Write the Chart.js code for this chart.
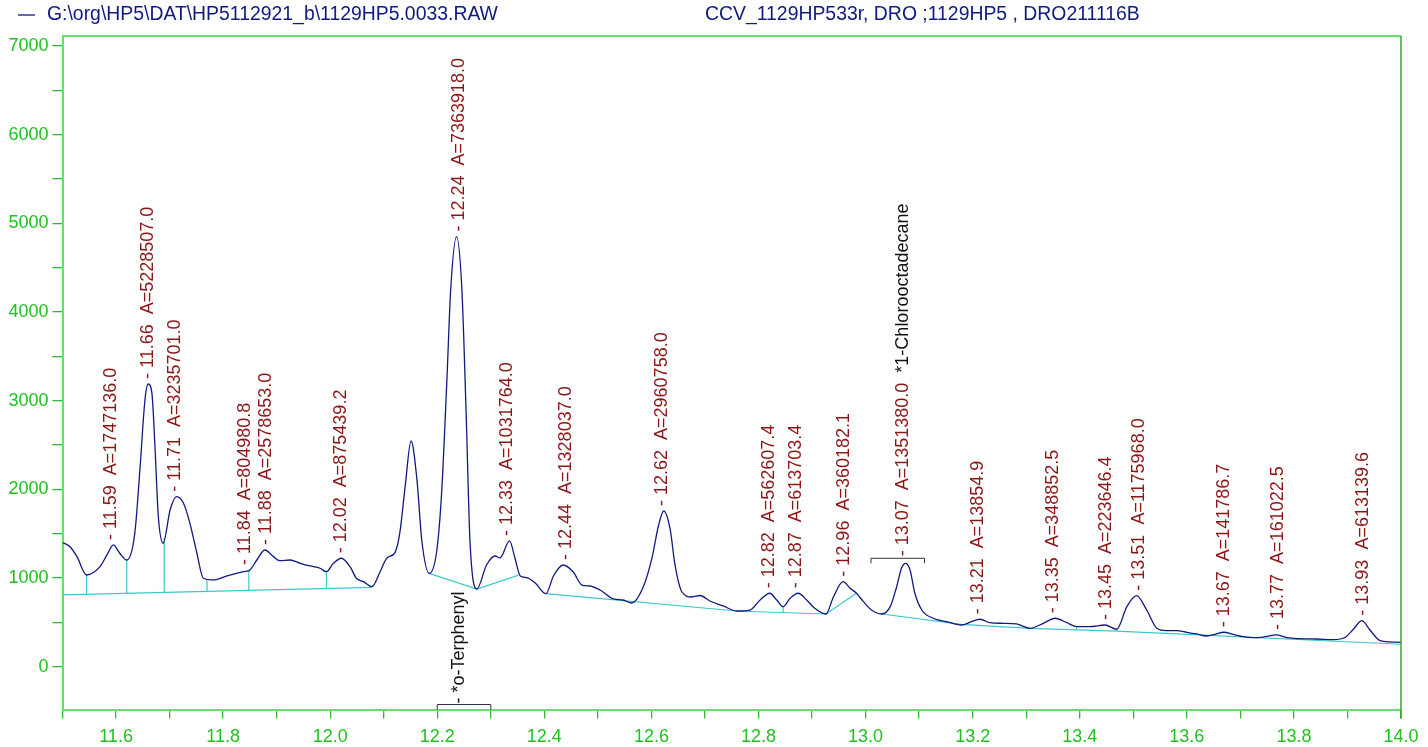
<!DOCTYPE html>
<html>
<head>
<meta charset="utf-8">
<script src="https://cdn.jsdelivr.net/npm/chart.js@4.4.1/dist/chart.umd.min.js"></script>
<style>
  body { margin: 0; background: #fff; }
</style>
</head>
<body>
<canvas id="chrom" width="1428" height="747"></canvas>
<script>
const fileName = 'G:\\org\\HP5\\DAT\\HP5112921_b\\1129HP5.0033.RAW';
const runInfo = 'CCV_1129HP533r, DRO ;1129HP5 , DRO211116B';

// detector trace (retention time in min, signal)
const traceRt = [
  11.500, 11.514, 11.527, 11.545, 11.570, 11.583, 11.595, 11.607, 11.620, 11.635,
  11.645, 11.654, 11.660, 11.667, 11.673, 11.679, 11.688, 11.701, 11.713, 11.726,
  11.738, 11.751, 11.763, 11.782, 11.807, 11.825, 11.838, 11.850, 11.863, 11.878,
  11.894, 11.906, 11.925, 11.944, 11.962, 11.981, 11.993, 12.006, 12.021, 12.037,
  12.049, 12.062, 12.078, 12.093, 12.106, 12.121, 12.130, 12.140, 12.151, 12.162,
  12.171, 12.185, 12.199, 12.208, 12.218, 12.225, 12.236, 12.246, 12.254, 12.261,
  12.274, 12.292, 12.308, 12.317, 12.335, 12.345, 12.355, 12.367, 12.383, 12.403,
  12.417, 12.435, 12.454, 12.470, 12.485, 12.504, 12.529, 12.547, 12.563, 12.585,
  12.601, 12.613, 12.623, 12.635, 12.644, 12.657, 12.675, 12.691, 12.709, 12.734,
  12.759, 12.784, 12.803, 12.821, 12.834, 12.846, 12.859, 12.874, 12.890, 12.905,
  12.926, 12.940, 12.958, 12.971, 12.983, 12.996, 13.011, 13.030, 13.046, 13.058,
  13.067, 13.075, 13.083, 13.092, 13.105, 13.126, 13.151, 13.179, 13.198, 13.214,
  13.232, 13.257, 13.282, 13.307, 13.332, 13.354, 13.376, 13.394, 13.419, 13.447,
  13.469, 13.488, 13.506, 13.525, 13.544, 13.562, 13.581, 13.600, 13.618, 13.637,
  13.653, 13.669, 13.687, 13.705, 13.724, 13.746, 13.767, 13.787, 13.811, 13.843,
  13.874, 13.896, 13.911, 13.927, 13.942, 13.961, 13.979, 14.000
];
const traceSignal = [
  1401, 1353, 1241, 1034, 1128, 1260, 1373, 1279, 1203, 1504,
  2256, 3008, 3188, 3083, 2444, 1692, 1392, 1767, 1917, 1843,
  1617, 1279, 997, 978, 1023, 1053, 1071, 1091, 1203, 1316,
  1241, 1195, 1203, 1166, 1136, 1110, 1071, 1166, 1223, 1128,
  997, 959, 902, 1068, 1226, 1287, 1508, 2031, 2545, 2112,
  1429, 1052, 1305, 1951, 3240, 4248, 4851, 4248, 2839, 1429,
  876, 1147, 1248, 1226, 1418, 1226, 1023, 1005, 944, 823,
  1023, 1147, 1068, 921, 910, 865, 764, 752, 718, 903,
  1226, 1587, 1756, 1548, 1147, 842, 786, 803, 741, 685,
  628, 639, 752, 828, 752, 677, 771, 828, 752, 659,
  594, 789, 959, 884, 828, 733, 639, 594, 677, 902,
  1110, 1166, 1091, 828, 639, 546, 508, 470, 508, 535,
  496, 489, 482, 433, 489, 546, 496, 451, 451, 470,
  422, 677, 801, 639, 433, 406, 406, 388, 369, 346,
  365, 388, 365, 338, 327, 338, 358, 327, 316, 312,
  305, 332, 422, 519, 414, 293, 279, 275
];

// integrated peaks
const peakRt = [11.59, 11.66, 11.71, 11.84, 11.88, 12.02, 12.24, 12.33, 12.44, 12.62, 12.82,
  12.87, 12.96, 13.07, 13.21, 13.35, 13.45, 13.51, 13.67, 13.77, 13.93];
const peakArea = ['1747136.0', '5228507.0', '3235701.0', '804980.8', '2578653.0', '875439.2',
  '7363918.0', '1031764.0', '1328037.0', '2960758.0', '562607.4', '613703.4', '360182.1',
  '1351380.0', '13854.9', '348852.5', '223646.4', '1175968.0', '141786.7', '161022.5', '613139.6'];

// surrogates: name, window, label on the peak or down at the axis
const surrogateRt = [12.24, 13.07];
const surrogateName = ['*o-Terphenyl', '*1-Chlorooctadecane'];
const surrogateFrom = [12.20, 13.01];
const surrogateTo = [12.30, 13.11];
const surrogateAtAxis = [true, false];

// baseline segments and peak split lines
const baseRt = [[11.500, 12.078], [12.185, 12.274, 12.352], [12.403, 12.759, 12.926, 12.983],
  [13.030, 13.179, 13.307, 13.469, 14.000]];
const baseSignal = [[809, 895], [1052, 876, 1033], [823, 628, 594, 828], [594, 478, 433, 402, 253]];
const dropRt = [11.545, 11.620, 11.690, 11.770, 11.848, 11.993, 12.846, 13.394, 13.469];

// axis ticks (labels only on every other one)
const xTicks = [11.5, 11.6, 11.7, 11.8, 11.9, 12.0, 12.1, 12.2, 12.3, 12.4, 12.5, 12.6, 12.7,
  12.8, 12.9, 13.0, 13.1, 13.2, 13.3, 13.4, 13.5, 13.6, 13.7, 13.8, 13.9, 14.0];
const yTicks = [0, 500, 1000, 1500, 2000, 2500, 3000, 3500, 4000, 4500, 5000, 5500, 6000, 6500, 7000];

const NAVY = '#101a80';
const CYAN = '#3cc8c8';
const RED = '#8c1616';
const GREEN = '#1fc21f';
const FONT = '"Liberation Sans", Arial, Helvetica, sans-serif';

function interp(xs, ys, x) {
  for (let i = 1; i < xs.length; i++) {
    if (x <= xs[i]) {
      const t = (x - xs[i - 1]) / (xs[i] - xs[i - 1]);
      return ys[i - 1] + t * (ys[i] - ys[i - 1]);
    }
  }
  return ys[ys.length - 1];
}

function baseAt(x) {
  for (let s = 0; s < baseRt.length; s++) {
    const xs = baseRt[s];
    if (x >= xs[0] && x <= xs[xs.length - 1]) return interp(xs, baseSignal[s], x);
  }
  return null;
}

function apex(rt) {
  let best = -Infinity;
  traceRt.forEach((t, i) => {
    if (Math.abs(t - rt) <= 0.012 && traceSignal[i] > best) best = traceSignal[i];
  });
  return best;
}

const tracePoints = traceRt.map((t, i) => ({ x: t, y: traceSignal[i] }));

const basePoints = [];
baseRt.forEach((xs, s) => {
  xs.forEach((t, i) => basePoints.push({ x: t, y: baseSignal[s][i] }));
  basePoints.push({ x: xs[xs.length - 1], y: null });
});

const dropPoints = [];
dropRt.forEach(t => {
  dropPoints.push({ x: t, y: baseAt(t) });
  dropPoints.push({ x: t, y: interp(traceRt, traceSignal, t) });
  dropPoints.push({ x: t, y: null });
});

function vtext(ctx, str, px, py, color) {
  ctx.save();
  ctx.translate(px, py);
  ctx.rotate(-Math.PI / 2);
  ctx.fillStyle = color;
  ctx.fillText(str, 0, 0);
  ctx.restore();
  return ctx.measureText(str).width;
}

function bracket(ctx, x0, x1, yb, leg) {
  ctx.beginPath();
  ctx.moveTo(x0, yb + leg);
  ctx.lineTo(x0, yb);
  ctx.lineTo(x1, yb);
  ctx.lineTo(x1, yb + leg);
  ctx.stroke();
}

const peakLabels = {
  id: 'peakLabels',
  afterDatasetsDraw(chart) {
    const { ctx, chartArea, scales: { x, y } } = chart;
    ctx.save();
    ctx.font = '18px ' + FONT;
    ctx.textBaseline = 'middle';
    ctx.textAlign = 'left';
    ctx.strokeStyle = '#333';
    ctx.lineWidth = 1;
    peakRt.forEach((rt, i) => {
      const px = x.getPixelForValue(rt);
      const top = y.getPixelForValue(apex(rt));
      const label = '- ' + rt.toFixed(2) + '  A=' + peakArea[i];
      const s = surrogateRt.indexOf(rt);
      if (s >= 0 && !surrogateAtAxis[s]) {
        const yb = top - 5;
        bracket(ctx, x.getPixelForValue(surrogateFrom[s]), x.getPixelForValue(surrogateTo[s]), yb, 5);
        const w = vtext(ctx, label + '  ', px, yb - 2, RED);
        vtext(ctx, surrogateName[s], px, yb - 2 - w, '#111');
      } else {
        vtext(ctx, label, px, top - 5, RED);
      }
    });
    surrogateRt.forEach((rt, s) => {
      if (!surrogateAtAxis[s]) return;
      const yb = chartArea.bottom - 5;
      bracket(ctx, x.getPixelForValue(surrogateFrom[s]), x.getPixelForValue(surrogateTo[s]), yb, 5);
      vtext(ctx, '- ' + surrogateName[s], x.getPixelForValue(rt), yb - 1, '#111');
    });
    ctx.restore();
  }
};

const frame = {
  id: 'frame',
  afterDraw(chart) {
    const { ctx, chartArea: a } = chart;
    ctx.save();
    ctx.strokeStyle = '#6bdc6b';
    ctx.lineWidth = 2;
    ctx.beginPath();
    ctx.moveTo(a.left, a.top);
    ctx.lineTo(a.right, a.top);
    ctx.stroke();
    ctx.strokeStyle = '#22b022';
    ctx.lineWidth = 1.5;
    ctx.beginPath();
    ctx.moveTo(a.right, a.top);
    ctx.lineTo(a.right, a.bottom + 9);
    ctx.stroke();

    // header: trace legend + run info
    ctx.strokeStyle = NAVY;
    ctx.lineWidth = 1.3;
    ctx.beginPath();
    ctx.moveTo(18, 15);
    ctx.lineTo(35, 15);
    ctx.stroke();
    ctx.fillStyle = NAVY;
    ctx.font = '19.4px ' + FONT;
    ctx.textBaseline = 'middle';
    ctx.fillText(fileName, 47, 15);
    ctx.fillText(runInfo, 705, 15);
    ctx.restore();
  }
};

const ctx = document.getElementById('chrom').getContext('2d');
const chart = new Chart(ctx, {
  type: 'line',
  data: {
    datasets: [
      {
        label: 'trace',
        data: tracePoints,
        borderColor: NAVY,
        borderWidth: 1.3,
        pointRadius: 0,
        cubicInterpolationMode: 'monotone',
        order: 0
      },
      {
        label: 'baseline',
        data: basePoints,
        borderColor: CYAN,
        borderWidth: 1.2,
        pointRadius: 0,
        tension: 0,
        spanGaps: false,
        order: 1
      },
      {
        label: 'drops',
        data: dropPoints,
        borderColor: CYAN,
        borderWidth: 1.2,
        pointRadius: 0,
        tension: 0,
        spanGaps: false,
        order: 1
      }
    ]
  },
  options: {
    responsive: false,
    animation: false,
    events: [],
    layout: { padding: { top: 36, right: 27, left: 0, bottom: 0 } },
    plugins: { legend: { display: false }, tooltip: { enabled: false } },
    scales: {
      x: {
        type: 'linear',
        min: 11.5,
        max: 14.0,
        afterBuildTicks: s => { s.ticks = xTicks.map(value => ({ value })); },
        afterFit: s => { s.height = 37.5; },
        border: { color: '#6bdc6b', width: 2 },
        grid: { drawOnChartArea: false, tickLength: 9, color: '#33b833', lineWidth: 1.3 },
        ticks: {
          autoSkip: false,
          maxRotation: 0,
          padding: 8,
          color: GREEN,
          font: { size: 18, family: FONT },
          callback: v => (Math.round(v * 10) % 2 === 0 ? v.toFixed(1) : '')
        }
      },
      y: {
        min: -483,
        max: 7113,
        afterBuildTicks: s => { s.ticks = yTicks.map(value => ({ value })); },
        afterFit: s => { s.width = 62.5; },
        border: { color: '#6bdc6b', width: 2 },
        grid: { drawOnChartArea: false, tickLength: 10, color: '#33b833', lineWidth: 1.3 },
        ticks: {
          autoSkip: false,
          padding: 4,
          color: GREEN,
          font: { size: 18, family: FONT },
          callback: v => (v % 1000 === 0 ? String(v) : '')
        }
      }
    }
  },
  plugins: [peakLabels, frame]
});
</script>
</body>
</html>
